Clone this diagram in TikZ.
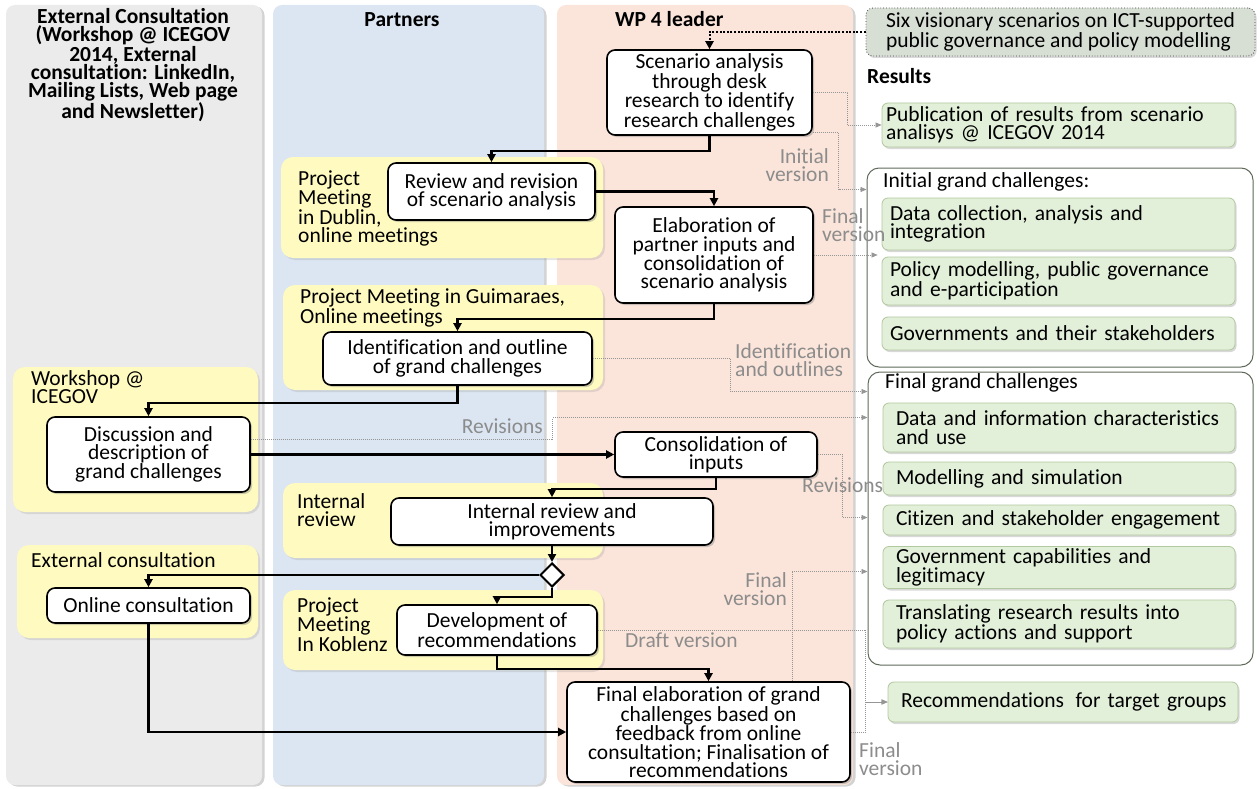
\documentclass[tikz,border=0pt]{standalone}
\usepackage{fontspec}
\setmainfont{Carlito}[Ligatures=NoCommon]
\usetikzlibrary{shapes.geometric,arrows.meta,shadows,calc}
\definecolor{laneGray}{RGB}{235,235,235}
\definecolor{laneBlue}{RGB}{220,230,242}
\definecolor{lanePeach}{RGB}{251,229,218}
\definecolor{yellowc}{RGB}{255,251,192}
\definecolor{greenf}{RGB}{226,239,217}
\definecolor{greenb}{RGB}{178,200,158}
\definecolor{sixf}{RGB}{215,222,212}
\definecolor{contb}{RGB}{95,105,90}
\definecolor{noteline}{RGB}{150,150,150}
\definecolor{notetext}{RGB}{140,140,140}
\newcommand\dfont{\fontsize{21.5}{18.3}\selectfont}
\begin{document}
\begin{tikzpicture}[x=1pt,y=-1pt,
  lane/.style={fill=#1, rounded corners=9pt, drop shadow={shadow xshift=2.5pt,shadow yshift=-1.5pt,opacity=0.35}},
  grp/.style={fill=yellowc, rounded corners=12pt, drop shadow={shadow xshift=2pt,shadow yshift=-2pt,opacity=0.2}},
  act/.style={draw=black, line width=1.6pt, fill=white, rounded corners=8pt, align=center, inner sep=2pt, font=\dfont, drop shadow={shadow xshift=2pt,shadow yshift=-2pt,opacity=0.4}},
  res/.style={draw=greenb, fill=greenf, line width=0.8pt, rounded corners=6pt, align=left, inner ysep=2pt, font=\dfont, drop shadow={shadow xshift=1.5pt,shadow yshift=-2pt,opacity=0.3}},
  cont/.style={draw=contb, line width=1pt, fill=white, rounded corners=12pt},
  six/.style={draw=black!75, dotted, line width=0.8pt, fill=sixf, rounded corners=7pt, align=left, font=\dfont, drop shadow={shadow xshift=1.5pt,shadow yshift=-2pt,opacity=0.3}},
  flow/.style={line width=2.6pt, -{Triangle[length=8pt,width=8pt]}},
  dflow/.style={line width=2pt, dash pattern=on 2pt off 1.6pt, -{Triangle[length=8pt,width=8pt]}},
  note/.style={draw=noteline, line width=0.7pt, dash pattern=on 1pt off 1pt, -{Triangle[length=6pt,width=5pt]}},
  lbl/.style={text=notetext, font=\dfont, inner sep=0pt},
  glbl/.style={font=\dfont, inner sep=0pt, align=left},
  hdr/.style={font=\dfont\bfseries, inner sep=0pt, align=center}]
\useasboundingbox (0,0) rectangle (1260,789);
% lanes
\fill[lane=laneGray] (6,5) rectangle (262,785);
\fill[lane=laneBlue] (273,5) rectangle (544,785);
\fill[lane=lanePeach] (557,5) rectangle (853,785);
\node[hdr, anchor=base] (h1) at (133,118.5) {External Consultation\\(Workshop @ ICEGOV\\2014, External\\consultation: LinkedIn,\\Mailing Lists, Web page\\and Newsletter)};
\node[hdr, anchor=base] (h2) at (402,27) {Partners};
\node[hdr, anchor=base west] (h3) at (615,27) {WP 4 leader};
\node[hdr, anchor=base west] (h4) at (867,84) {Results};
% groups
\fill[grp] (281,157) rectangle (603,258);
\fill[grp] (283,285) rectangle (603,390);
\fill[grp] (13,367) rectangle (258,512);
\fill[grp] (283,483) rectangle (603,558);
\fill[grp] (17,545) rectangle (258,638);
\fill[grp] (283,590) rectangle (603,670);
\node[glbl, anchor=base west] (gDub) at (298,242.9) {Project\\Meeting\\in Dublin,\\online meetings};
\node[glbl, anchor=base west] (gGui) at (300,323.3) {Project Meeting in Guimaraes,\\Online meetings};
\node[glbl, anchor=base west] (gWs) at (31,403.3) {Workshop @\\ICEGOV};
\node[glbl, anchor=base west] (gInt) at (297,526.3) {Internal\\review};
\node[glbl, anchor=base west] (gExt) at (31,567) {External consultation};
\node[glbl, anchor=base west] (gKob) at (297,651.6) {Project\\Meeting\\In Koblenz};
% containers
\node[cont, minimum width=386pt, minimum height=199pt] (IGC) at (1060,267.5) {};
\node[cont, minimum width=385pt, minimum height=293pt] (FGC) at (1060.5,518.5) {};
\node[glbl, anchor=base west] (tIGC) at (883,187) {Initial grand challenges:};
\node[glbl, anchor=base west] (tFGC) at (885,388) {Final grand challenges};
% six scenarios
\node[six, minimum width=389pt, minimum height=48pt] (six) at (1060.5,32) {Six visionary scenarios on ICT-supported\\public governance and policy modelling};
% activities
\node[act, minimum width=205pt, minimum height=85pt] (S1) at (709.5,92.5) {Scenario analysis\\through desk\\research to identify\\research challenges};
\node[act, minimum width=207pt, minimum height=57pt] (R) at (491.5,191.5) {Review and revision\\of scenario analysis};
\node[act, minimum width=198pt, minimum height=96pt] (E) at (714,255) {Elaboration of\\partner inputs and\\consolidation of\\scenario analysis};
\node[act, minimum width=269pt, minimum height=53pt] (I) at (457.5,358.5) {Identification and outline\\of grand challenges};
\node[act, minimum width=203pt, minimum height=75pt] (D) at (148.5,454.5) {Discussion and\\description of\\grand challenges};
\node[act, minimum width=202pt, minimum height=45pt] (C) at (716,454.5) {Consolidation of\\inputs};
\node[act, minimum width=322pt, minimum height=47pt] (IR) at (552,521.5) {Internal review and\\improvements};
\node[draw=black, fill=white, line width=2pt, diamond, minimum width=24pt, minimum height=24pt, inner sep=0pt] (dia) at (552,575) {};
\node[act, minimum width=203pt, minimum height=35pt] (O) at (148.5,605.5) {Online consultation};
\node[act, minimum width=200pt, minimum height=50pt] (Dv) at (497,630) {Development of\\recommendations};
\node[act, minimum width=283pt, minimum height=100pt] (F) at (708.5,732) {Final elaboration of grand\\challenges based on\\feedback from online\\consultation; Finalisation of\\recommendations};
% results
\node[res, text width=345pt, inner xsep=4pt, minimum height=44pt] (Pub) at (1058.5,125) {Publication of results from scenario\\analisys @ ICEGOV 2014};
\node[res, text width=337pt, inner xsep=8pt, minimum height=52pt] (DC) at (1058.5,224) {Data collection, analysis and\\integration};
\node[res, text width=337pt, inner xsep=8pt, minimum height=48pt] (PM) at (1058.5,281) {Policy modelling, public governance\\and e-participation};
\node[res, text width=337pt, inner xsep=8pt, minimum height=33pt] (GS) at (1058.5,333.5) {Governments and their stakeholders};
\node[res, text width=326pt, inner xsep=13pt, minimum height=49pt] (DI) at (1059,427.5) {Data and information characteristics\\and use};
\node[res, text width=326pt, inner xsep=13pt, minimum height=33pt] (MS) at (1059,478.5) {Modelling and simulation};
\node[res, text width=326pt, inner xsep=13pt, minimum height=30pt] (CS) at (1059,520) {Citizen and stakeholder engagement};
\node[res, text width=326pt, inner xsep=13pt, minimum height=41pt] (GC) at (1059,567.5) {Government capabilities and\\legitimacy};
\node[res, text width=326pt, inner xsep=13pt, minimum height=48pt] (TR) at (1059,624) {Translating research results into\\policy actions and support};
\node[res, text width=334pt, inner xsep=8pt, minimum height=40pt] (Rec) at (1063,702) {\hspace*{5pt}Recommendations\hspace{0.2em} for target groups};
% main flow
\draw[dflow] (six.west) -| (S1.north);
\draw[flow] (S1.south) -- ++(0,15) -| (R.north);
\draw[flow] (R.east) -| (E.north);
\draw[flow] (E.south) -- ++(0,15) -| (I.north);
\draw[flow] (I.south) -- ++(0,17) -| (D.north);
\draw[flow] (D.east) -- (C.west);
\draw[flow] (C.south) -- ++(0,11) -| (IR.north);
\draw[flow] (IR.south) -- (dia.north);
\draw[flow] (dia.west) -| (O.north);
\draw[flow] (dia.south) -- ++(0,9) -| (Dv.north);
\draw[flow] (Dv.south) -- ++(0,13) -| (F.north);
\draw[flow] (O.south) |- (F.west);
% result connectors
\draw[note] (S1.east) -- ++(35,0) |- (Pub.west);
\draw[note] (S1.south east) ++(0,-3) -- ++(26,0) |- ([yshift=-22pt]IGC.north west);
\draw[note] (E.east) -- ($(E.east -| PM.west)+(-4,0)$);
\draw[note] (I.east) -- ++(138,0) |- ([yshift=-20pt]FGC.north west);
\draw[note] ([yshift=15pt]D.east) -- ++(302,0) |- ([yshift=-46pt]FGC.north west);
\draw[note] (C.east) -- ++(25,0) |- ([yshift=-146pt]FGC.north west);
\draw[note] ([xshift=83.5pt]F.north) |- ([yshift=-200pt]FGC.north west);
\draw[note] (Dv.east) -- ++(268,0) |- (Rec.west);
\draw[note] (F.east) -- ++(15,0) |- (Rec.west);
% labels
\node[lbl, anchor=base east, align=right] (lInit) at (829,181.3) {Initial\\version};
\node[lbl, anchor=base west, align=left] (lFin1) at (822,241.3) {Final\\version};
\node[lbl, anchor=base west, align=left] (lIdent) at (735,376.3) {Identification\\and outlines};
\node[lbl, anchor=base east] (lRev1) at (543,433) {Revisions};
\node[lbl, anchor=base west] (lRev2) at (802,492) {Revisions};
\node[lbl, anchor=base east, align=right] (lFin2) at (787,605.3) {Final\\version};
\node[lbl, anchor=base west] (lDraft) at (625,647) {Draft version};
\node[lbl, anchor=base west, align=left] (lFin3) at (859,775.3) {Final\\version};
\end{tikzpicture}
\end{document}
